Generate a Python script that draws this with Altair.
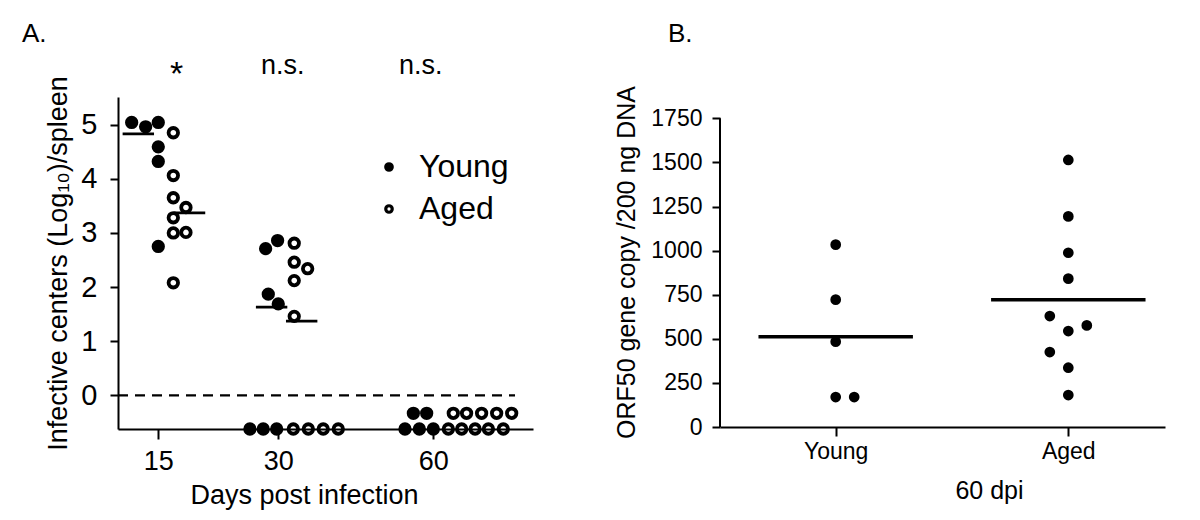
import json
import altair as alt
import pandas as pd

FONT = "Liberation Sans"

# ---------------- Panel A data (log10 infective centers / spleen) ----------------
d15_young_val = [5.04, 4.96, 5.04, 4.59, 4.32, 2.75]
d15_young_col = [-2.0, -0.95, 0.0, 0.0, 0.0, 0.0]
d15_aged_val = [4.85, 4.06, 3.65, 3.47, 3.28, 3.00, 3.01, 2.08]
d15_aged_col = [1.13, 1.13, 1.13, 2.08, 1.13, 1.13, 2.08, 1.13]

d30_young_val = [2.71, 2.86, 1.87, 1.69, -0.62, -0.62, -0.62]
d30_young_col = [-0.95, -0.05, -0.75, 0.0, -2.13, -1.13, -0.12]
d30_aged_val = [2.81, 2.46, 2.34, 2.12, 1.46, -0.62, -0.62, -0.62, -0.62]
d30_aged_col = [1.2, 1.2, 2.21, 1.2, 1.2, 1.13, 2.26, 3.38, 4.51]

d60_young_val = [-0.62, -0.62, -0.62, -0.33, -0.33]
d60_young_col = [-2.13, -1.05, 0.0, -1.5, -0.5]
d60_aged_val = [-0.62, -0.62, -0.62, -0.62, -0.62, -0.33, -0.33, -0.33, -0.33, -0.33]
d60_aged_col = [1.13, 2.13, 3.14, 4.14, 5.26, 1.5, 2.5, 3.63, 4.76, 5.89]

a_days = [15, 30, 60]
a_median_day = [15, 15, 30, 30]
a_median_val = [4.83, 3.37, 1.63, 1.37]
a_median_col = [-1.5, 2.35, -0.5, 1.76]

a_note_text = ["*", "n.s.", "n.s."]
a_note_day = [15, 30, 60]
a_note_col = [1.38, 0.34, -0.95]
a_note_y = [5.735, 5.938, 5.938]
a_note_size = [34, 27, 27]

lod_value = 0          # detection limit (dashed line)
lod_end_day = 60
lod_end_col = 6.14

panel_labels = ["A.", "B."]

# ---------------- Panel B data (ORF50 copies / 200 ng DNA, 60 dpi) ----------------
b_groups = ["Young", "Aged"]
b_young_val = [1034, 722, 484, 170, 170]
b_young_col = [0, 0, 0, 0, 1]
b_aged_val = [1514, 1194, 988, 841, 629, 544, 576, 425, 336, 181]
b_aged_col = [0, 0, 0, 0, -1, 0, 1, -1, 0, 0]
b_median_val = [512, 721]

# ---------------- tables ----------------
rows = []
for day, yv, yc, av, ac in [
    (15, d15_young_val, d15_young_col, d15_aged_val, d15_aged_col),
    (30, d30_young_val, d30_young_col, d30_aged_val, d30_aged_col),
    (60, d60_young_val, d60_young_col, d60_aged_val, d60_aged_col),
]:
    rows += [{"day": day, "group": "Young", "value": v, "col": c} for v, c in zip(yv, yc)]
    rows += [{"day": day, "group": "Aged", "value": v, "col": c} for v, c in zip(av, ac)]
df_a = pd.DataFrame(rows)
df_med_a = pd.DataFrame({"day": a_median_day, "value": a_median_val, "col": a_median_col})
df_note = pd.DataFrame({"day": a_note_day, "col": a_note_col, "value": a_note_y,
                        "text": a_note_text, "size": a_note_size})
df_lod = pd.DataFrame({"day": [lod_end_day], "col": [lod_end_col], "value": [lod_value]})

rows_b = [{"group": "Young", "value": v, "col": c} for v, c in zip(b_young_val, b_young_col)]
rows_b += [{"group": "Aged", "value": v, "col": c} for v, c in zip(b_aged_val, b_aged_col)]
df_b = pd.DataFrame(rows_b)
df_b["idx"] = df_b["group"].map(lambda g: b_groups.index(g) + 1)
df_med_b = pd.DataFrame({"idx": [1, 2], "value": b_median_val})
df_baxis = pd.DataFrame({"y": [0], "y2": [1750]})

# ---------------- Panel A ----------------
EXP = 0.37
SLOT = 0.0883      # one dot width in transformed x units
HALF = 1.18        # half length of median bar, in dot widths
XMIN, XMAX = 11.346, 86.6
W_A, H_A = 415, 332


def pos(col_expr):
    return f"pow(pow(datum.day, {EXP}) + ({col_expr}) * {SLOT}, {1 / EXP})"


xs_a = alt.Scale(type="pow", exponent=EXP, domain=[XMIN, XMAX], nice=False, zero=False)
ys_a = alt.Scale(domain=[-0.62, 5.51], nice=False, zero=False)
ax_xa = alt.Axis(values=a_days, format="d", title="Days post infection", labelFontSize=27,
                 titleFontSize=27, tickSize=10, labelPadding=9, titlePadding=8,
                 titleX=186, labelFlush=False)
ax_ya = alt.Axis(values=[0, 1, 2, 3, 4, 5], title="Infective centers (Log\u2081\u2080)/spleen",
                 labelFontSize=29, titleFontSize=27, tickSize=8, labelPadding=13,
                 titlePadding=8, labelFlush=False)


def XA(f):
    return alt.X(f, type="quantitative", scale=xs_a, axis=ax_xa)


def YA(f):
    return alt.Y(f, type="quantitative", scale=ys_a, axis=ax_ya)


lod = alt.Chart(df_lod).transform_calculate(x1=str(XMIN), x2=pos("datum.col")).mark_rule(
    color="black", strokeWidth=2.2, strokeDash=[10, 7]
).encode(x=XA("x1"), x2="x2:Q", y=YA("value"))

med_a = alt.Chart(df_med_a).transform_calculate(
    x1=pos(f"datum.col - {HALF}"), x2=pos(f"datum.col + {HALF}")
).mark_rule(color="black", strokeWidth=2.8).encode(x=XA("x1"), x2="x2:Q", y=YA("value"))

pts_a = alt.Chart(df_a).transform_calculate(xpos=pos("datum.col")).mark_point(
    filled=True, size=90, stroke="black", strokeWidth=3.8, opacity=1, shape="circle"
).encode(
    x=XA("xpos"),
    y=YA("value"),
    fill=alt.Fill("group:N", scale=alt.Scale(domain=["Young", "Aged"], range=["black", "transparent"]),
                  legend=alt.Legend(orient="none", legendX=255, legendY=54, title=None,
                                    labelFontSize=32, labelFont=FONT, labelColor="black",
                                    symbolType="circle", symbolSize=42, symbolStrokeWidth=3.2,
                                    symbolStrokeColor="black", labelOffset=14, rowPadding=10,
                                    padding=0)),
)

notes = alt.Chart(df_note).transform_calculate(xpos=pos("datum.col")).mark_text(
    font=FONT, color="black", baseline="alphabetic", align="center"
).encode(x=XA("xpos"), y=YA("value"), text="text:N",
         size=alt.Size("size:Q", scale=None, legend=None))

label_a = alt.Chart(pd.DataFrame({"t": [panel_labels[0]]})).mark_text(
    font=FONT, fontSize=26, color="black", align="left", baseline="alphabetic"
).encode(text="t:N", x=alt.value(-96), y=alt.value(-55))

chart_a = alt.layer(lod, med_a, pts_a, notes, label_a).properties(width=W_A, height=H_A)

# ---------------- Panel B ----------------
B_SLOT = 0.0795
B_HALF = 0.332
W_B, H_B = 445, 330
xs_b = alt.Scale(domain=[0.5026, 2.4157], nice=False, zero=False)
ys_b = alt.Scale(domain=[0, 1871], nice=False, zero=True)
ax_xb = alt.Axis(values=[1, 2], labelExpr=f"{json.dumps(b_groups)}[round(datum.value) - 1]",
                 title="60 dpi", labelFontSize=23, titleFontSize=25, tickSize=9,
                 labelPadding=4, titlePadding=15, titleX=269, labelFlush=False)
ax_yb = alt.Axis(values=list(range(0, 1751, 250)), format="d", domain=False,
                 title="ORF50 gene copy /200 ng DNA", labelFontSize=23, titleFontSize=25,
                 tickSize=8, labelPadding=10, titlePadding=11, labelFlush=False)


def XB(f):
    return alt.X(f, type="quantitative", scale=xs_b, axis=ax_xb)


def YB(f):
    return alt.Y(f, type="quantitative", scale=ys_b, axis=ax_yb)


baxis = alt.Chart(df_baxis).mark_rule(color="black", strokeWidth=2).encode(
    x=alt.value(0), y=YB("y"), y2="y2:Q")

med_b = alt.Chart(df_med_b).transform_calculate(
    x1=f"datum.idx - {B_HALF}", x2=f"datum.idx + {B_HALF}"
).mark_rule(color="black", strokeWidth=3.5).encode(x=XB("x1"), x2="x2:Q", y=YB("value"))

pts_b = alt.Chart(df_b).transform_calculate(xpos=f"datum.idx + datum.col * {B_SLOT}").mark_circle(
    size=115, color="black", opacity=1
).encode(x=XB("xpos"), y=YB("value"))

label_b = alt.Chart(pd.DataFrame({"t": [panel_labels[1]]})).mark_text(
    font=FONT, fontSize=26, color="black", align="left", baseline="alphabetic"
).encode(text="t:N", x=alt.value(-52), y=alt.value(-55))

chart_b = alt.layer(baxis, med_b, pts_b, label_b).properties(width=W_B, height=H_B)

chart = alt.hconcat(chart_a, chart_b, spacing=187, bounds="flush").resolve_scale(
    fill="independent"
).properties(
    padding={"left": 14, "top": 13, "right": 5, "bottom": 5},
    background="white",
).configure_view(stroke=None).configure_axis(
    domainColor="black", tickColor="black", labelColor="black", titleColor="black",
    labelFont=FONT, titleFont=FONT, grid=False, domainWidth=2, tickWidth=2,
    titleFontWeight="normal",
)

chart.save("out.html", embed_options={"renderer": "svg", "actions": False})
